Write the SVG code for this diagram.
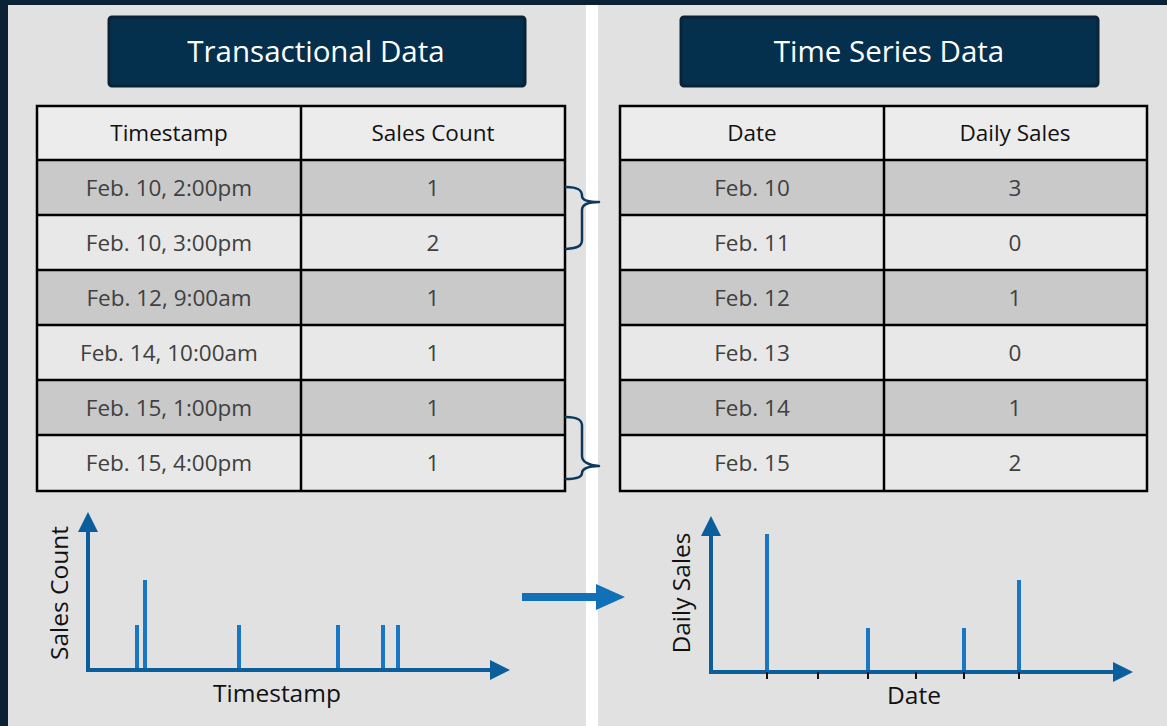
<svg xmlns="http://www.w3.org/2000/svg" width="1167" height="726" viewBox="0 0 1167 726">
<style>
.title{font-family:"Open Sans","Liberation Sans",sans-serif;font-size:29.5px;fill:#ffffff;text-anchor:middle}
.hdr{font-family:"Open Sans","Liberation Sans",sans-serif;font-size:22.5px;fill:#111111;text-anchor:middle}
.cell{font-family:"Open Sans","Liberation Sans",sans-serif;font-size:22.5px;fill:#404040;text-anchor:middle}
.ax{font-family:"Open Sans","Liberation Sans",sans-serif;font-size:24.5px;fill:#111111;text-anchor:middle}
.tbox{fill:#05304d;stroke:#0a2236;stroke-width:3}
.dark{fill:#c9c9c9}
.light{fill:#e8e8e8}
.head{fill:#ececec}
.grid{fill:none;stroke:#000000;stroke-width:2.5}
.brace{fill:none;stroke:#0d3a5c;stroke-width:2.5;stroke-linecap:round}
.axis{fill:none;stroke:#0b5e9c;stroke-width:4}
.spike{stroke:#1777c4;stroke-width:4}
.tick{stroke:#111111;stroke-width:2}
</style>
<defs>
<marker id="ah" markerUnits="userSpaceOnUse" markerWidth="20" markerHeight="20" viewBox="0 0 20 20" refX="0" refY="10" orient="auto">
<path d="M0,0 L20,10 L0,20 Z" fill="#0b5e9c"/>
</marker>
</defs>
<rect x="0" y="0" width="1167" height="726" fill="#0b2135"/>
<rect x="8" y="5" width="578" height="721" fill="#e1e1e1"/>
<rect x="586" y="5" width="12" height="721" fill="#ffffff"/>
<rect x="598" y="5" width="569" height="721" fill="#e1e1e1"/>

<g id="title-left">
<rect class="tbox" x="109" y="17" width="416" height="69" rx="3"/>
<text class="title" x="316" y="62">Transactional Data</text>
</g>
<g id="title-right">
<rect class="tbox" x="681" y="17" width="417" height="69" rx="3"/>
<text class="title" x="889" y="62">Time Series Data</text>
</g>

<g id="table-left">
<rect class="head" x="37" y="106" width="528" height="54"/>
<rect class="dark" x="37" y="160" width="528" height="55"/>
<rect class="light" x="37" y="215" width="528" height="55"/>
<rect class="dark" x="37" y="270" width="528" height="55"/>
<rect class="light" x="37" y="325" width="528" height="55"/>
<rect class="dark" x="37" y="380" width="528" height="55"/>
<rect class="light" x="37" y="435" width="528" height="56"/>
<path class="grid" d="M37,106 H565 V491 H37 Z M301,106 V491 M37,160 H565 M37,215 H565 M37,270 H565 M37,325 H565 M37,380 H565 M37,435 H565"/>
<text class="hdr" x="169" y="141">Timestamp</text>
<text class="hdr" x="433" y="141">Sales Count</text>
<text class="cell" x="169" y="196">Feb. 10, 2:00pm</text>
<text class="cell" x="433" y="196">1</text>
<text class="cell" x="169" y="251">Feb. 10, 3:00pm</text>
<text class="cell" x="433" y="251">2</text>
<text class="cell" x="169" y="306">Feb. 12, 9:00am</text>
<text class="cell" x="433" y="306">1</text>
<text class="cell" x="169" y="361">Feb. 14, 10:00am</text>
<text class="cell" x="433" y="361">1</text>
<text class="cell" x="169" y="416">Feb. 15, 1:00pm</text>
<text class="cell" x="433" y="416">1</text>
<text class="cell" x="169" y="471">Feb. 15, 4:00pm</text>
<text class="cell" x="433" y="471">1</text>
</g>

<g id="table-right">
<rect class="head" x="620" y="106" width="527" height="54"/>
<rect class="dark" x="620" y="160" width="527" height="55"/>
<rect class="light" x="620" y="215" width="527" height="55"/>
<rect class="dark" x="620" y="270" width="527" height="55"/>
<rect class="light" x="620" y="325" width="527" height="55"/>
<rect class="dark" x="620" y="380" width="527" height="55"/>
<rect class="light" x="620" y="435" width="527" height="56"/>
<path class="grid" d="M620,106 H1147 V491 H620 Z M884,106 V491 M620,160 H1147 M620,215 H1147 M620,270 H1147 M620,325 H1147 M620,380 H1147 M620,435 H1147"/>
<text class="hdr" x="752" y="141">Date</text>
<text class="hdr" x="1015" y="141">Daily Sales</text>
<text class="cell" x="752" y="196">Feb. 10</text>
<text class="cell" x="1015" y="196">3</text>
<text class="cell" x="752" y="251">Feb. 11</text>
<text class="cell" x="1015" y="251">0</text>
<text class="cell" x="752" y="306">Feb. 12</text>
<text class="cell" x="1015" y="306">1</text>
<text class="cell" x="752" y="361">Feb. 13</text>
<text class="cell" x="1015" y="361">0</text>
<text class="cell" x="752" y="416">Feb. 14</text>
<text class="cell" x="1015" y="416">1</text>
<text class="cell" x="752" y="471">Feb. 15</text>
<text class="cell" x="1015" y="471">2</text>
</g>

<g id="connectors">
<path class="brace" d="M566,187 C578,187 582,190 582,196 C582,200 588,202 599,202 M599,202 C588,202 582,204 582,210 L582,240 C582,246 578,248 566,249"/>
<path class="brace" d="M566,417 C578,417 582,420 582,426 L582,456 C582,462 588,465 599,466 M599,466 C588,466 582,469 582,473 C582,477 578,479 566,479"/>
<path d="M522,593 H596 V584 L625,597 L596,610 V601 H522 Z" fill="#1070b8"/>
</g>

<g id="chart-left">
<path class="axis" d="M88,670 V532" marker-end="url(#ah)"/>
<path class="axis" d="M86,670 H490" marker-end="url(#ah)"/>
<line class="spike" x1="137" y1="668" x2="137" y2="625"/>
<line class="spike" x1="145" y1="668" x2="145" y2="580"/>
<line class="spike" x1="239" y1="668" x2="239" y2="625"/>
<line class="spike" x1="338" y1="668" x2="338" y2="625"/>
<line class="spike" x1="383" y1="668" x2="383" y2="625"/>
<line class="spike" x1="398" y1="668" x2="398" y2="625"/>
<text class="ax" x="277" y="702">Timestamp</text>
<text class="ax" transform="translate(68,593) rotate(-90)" x="0" y="0">Sales Count</text>
</g>

<g id="chart-right">
<path class="axis" d="M711,672 V536" marker-end="url(#ah)"/>
<path class="axis" d="M709,672 H1113" marker-end="url(#ah)"/>
<line class="spike" x1="767" y1="670" x2="767" y2="534"/>
<line class="spike" x1="868" y1="670" x2="868" y2="628"/>
<line class="spike" x1="964" y1="670" x2="964" y2="628"/>
<line class="spike" x1="1019" y1="670" x2="1019" y2="580"/>
<line class="tick" x1="767" y1="672" x2="767" y2="679"/>
<line class="tick" x1="818" y1="672" x2="818" y2="679"/>
<line class="tick" x1="868" y1="672" x2="868" y2="679"/>
<line class="tick" x1="916" y1="672" x2="916" y2="679"/>
<line class="tick" x1="964" y1="672" x2="964" y2="679"/>
<line class="tick" x1="1019" y1="672" x2="1019" y2="679"/>
<text class="ax" x="914" y="704">Date</text>
<text class="ax" transform="translate(690,593) rotate(-90)" x="0" y="0">Daily Sales</text>
</g>
</svg>
